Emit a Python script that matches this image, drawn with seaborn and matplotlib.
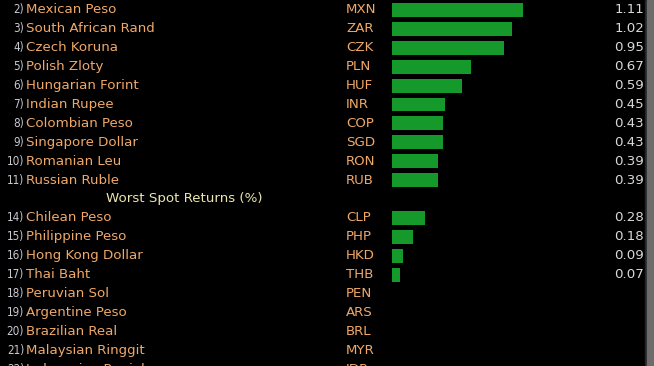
import numpy as np
import pandas as pd
import seaborn as sns
import matplotlib.pyplot as plt
import matplotlib.transforms as mtransforms
from matplotlib.patches import Rectangle

# rows as shown on the terminal screen (header row sits between RUB and CLP)
ranks = ["2)", "3)", "4)", "5)", "6)", "7)", "8)", "9)", "10)", "11)",
         None,
         "14)", "15)", "16)", "17)", "18)", "19)", "20)", "21)", "22)"]
names = ["Mexican Peso", "South African Rand", "Czech Koruna", "Polish Zloty",
         "Hungarian Forint", "Indian Rupee", "Colombian Peso", "Singapore Dollar",
         "Romanian Leu", "Russian Ruble",
         None,
         "Chilean Peso", "Philippine Peso", "Hong Kong Dollar", "Thai Baht",
         "Peruvian Sol", "Argentine Peso", "Brazilian Real", "Malaysian Ringgit",
         "Indonesian Rupiah"]
tickers = ["MXN", "ZAR", "CZK", "PLN", "HUF", "INR", "COP", "SGD", "RON", "RUB",
           "",
           "CLP", "PHP", "HKD", "THB", "PEN", "ARS", "BRL", "MYR", "IDR"]
returns = [1.11, 1.02, 0.95, 0.67, 0.59, 0.45, 0.43, 0.43, 0.39, 0.39,
           np.nan,
           0.28, 0.18, 0.09, 0.07, np.nan, np.nan, np.nan, np.nan, np.nan]
header = "Worst Spot Returns (%)"
header_row = 10

df = pd.DataFrame({"ticker": tickers, "ret": returns})

sns.set_style("dark")
plt.rcParams["font.family"] = ["DejaVu Sans"]

bg = "#000000"
green = "#14992a"
orange = "#f0a868"
white = "#d9d9d9"
rank_col = "#c8c8d0"
head_col = "#ece6b0"

fig = plt.figure(figsize=(6.54, 3.66), dpi=100, facecolor=bg)
ax = fig.add_axes([0, 0, 1, 1])
ax.set_facecolor(bg)

sns.barplot(data=df, x="ret", y="ticker", order=tickers, orient="h",
            color=green, errorbar=None, width=0.74, saturation=1,
            edgecolor="none", ax=ax)

px_per_unit = 118.0
ax.set_xlim(-392 / px_per_unit, (654 - 392) / px_per_unit)
row_h = 18.9
ax.set_ylim((366 - 10) / row_h, -10 / row_h)
ax.set_axis_off()

tr = mtransforms.blended_transform_factory(ax.transAxes, ax.transData)
fs = 9.6
for i in range(len(tickers)):
    if i == header_row:
        ax.text(184 / 654, i, header, transform=tr, color=head_col,
                fontsize=fs, ha="center", va="center")
        continue
    ax.text(24 / 654, i, ranks[i], transform=tr, color=rank_col,
            fontsize=fs - 1.2, ha="right", va="center", fontstretch="condensed")
    ax.text(26 / 654, i, names[i], transform=tr, color=orange,
            fontsize=fs, ha="left", va="center")
    ax.text(346 / 654, i, tickers[i], transform=tr, color=orange,
            fontsize=fs, ha="left", va="center")
    if not np.isnan(returns[i]):
        ax.text(644 / 654, i, f"{returns[i]:.2f}", transform=tr, color=white,
                fontsize=fs, ha="right", va="center")

# terminal scrollbar on the right edge
ax.add_patch(Rectangle((645 / 654, 0), 2 / 654, 1, transform=ax.transAxes,
                       color="#262626", zorder=5))
ax.add_patch(Rectangle((647 / 654, 0), 7 / 654, 1, transform=ax.transAxes,
                       color="#6c6c6c", zorder=5))

fig.savefig("out.png", dpi=100, facecolor=bg)
